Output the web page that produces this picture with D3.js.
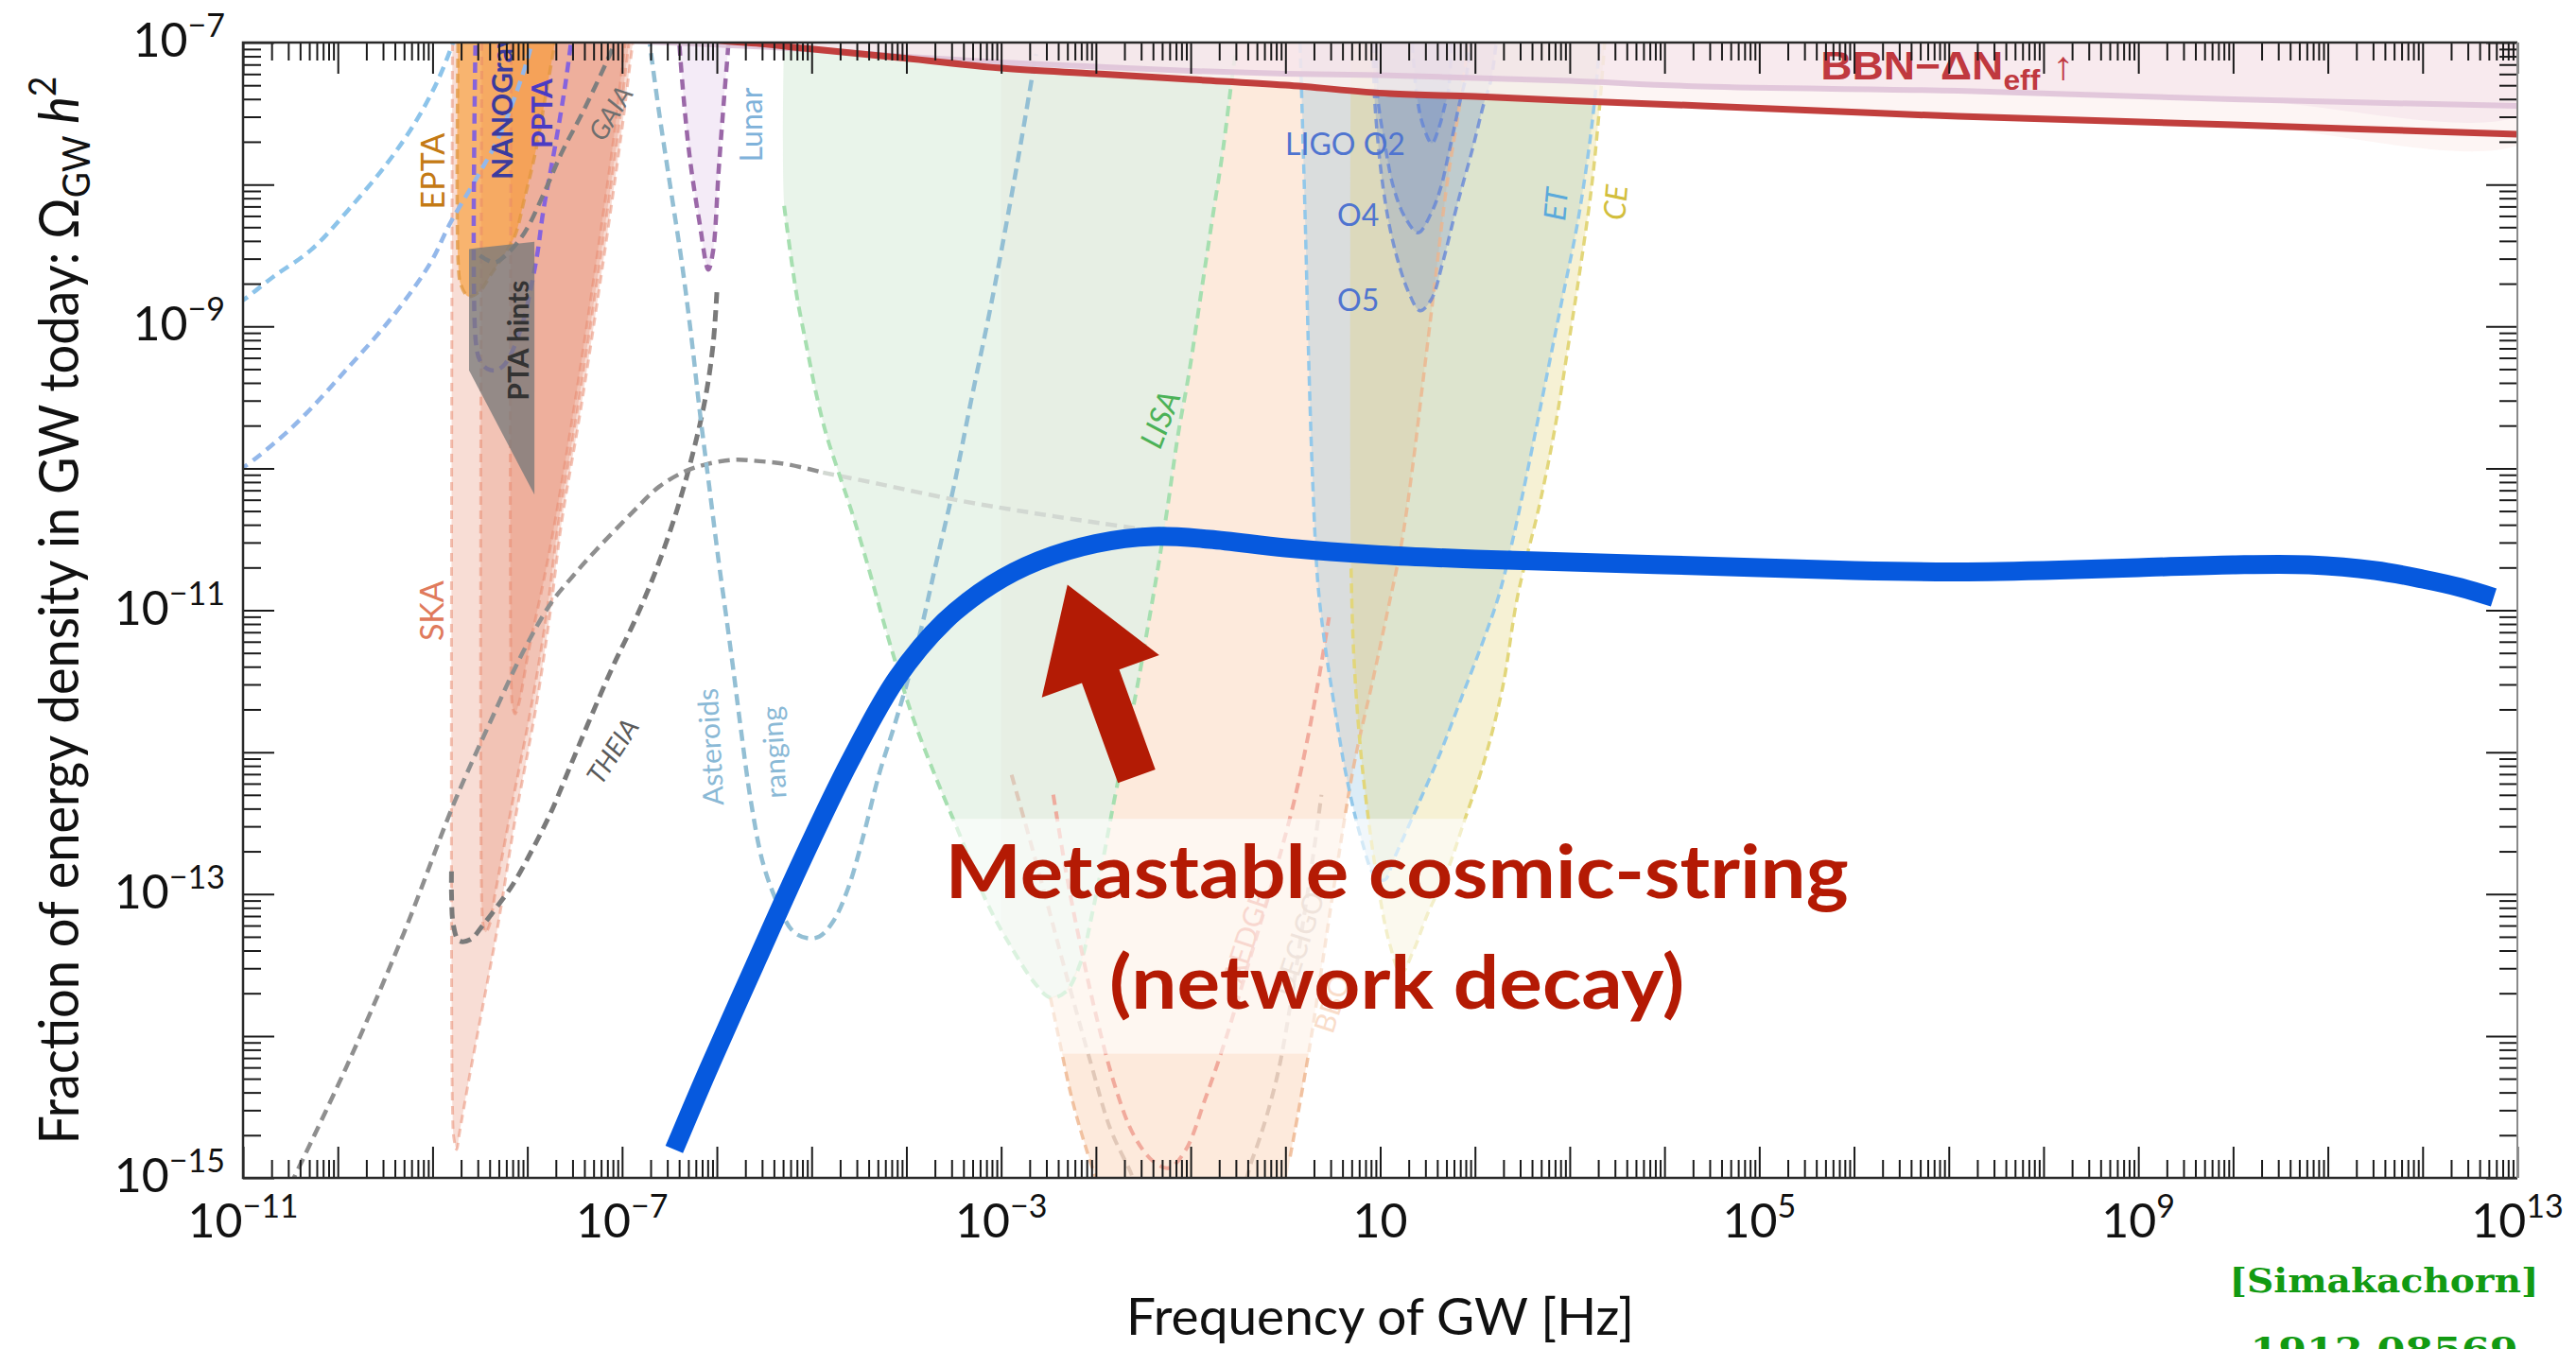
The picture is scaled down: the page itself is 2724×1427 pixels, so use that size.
<!DOCTYPE html>
<html>
<head>
<meta charset="utf-8">
<title>Metastable cosmic-string GW spectrum</title>
<script src="https://cdn.jsdelivr.net/npm/d3@7/dist/d3.min.js"></script>
<style>
  html, body { margin: 0; padding: 0; background: #ffffff; }
  svg { display: block; }
</style>
</head>
<body>
<svg id="chart" width="2724" height="1427"></svg>
<script>
// ---------- axis decades carrying a label ----------
const xLabelExps = [-11, -7, -3, 1, 5, 9, 13];
const yLabelExps = [-7, -9, -11, -13, -15];

// ---------- curves: [log10 f / Hz, log10 Omega_GW h^2] ----------
const cosmicString = [[-6.45,-14.80],[-6.1,-14.25],[-5.6,-13.5],[-5.1,-12.76],[-4.6,-12.07],[-4.1,-11.48],
  [-3.6,-11.08],[-3.1,-10.82],[-2.6,-10.65],[-2.0,-10.53],[-1.4,-10.48],[-0.8,-10.50],[0,-10.56],[1,-10.61],
  [2,-10.64],[3,-10.66],[4,-10.68],[5,-10.70],[6,-10.72],[7,-10.73],[8,-10.72],[9,-10.70],[10,-10.68],
  [10.8,-10.68],[11.5,-10.72],[12.0,-10.78],[12.4,-10.84],[12.75,-10.91]];

const bbnBound = [[-6.4,-6.94],[-5.98,-6.985],[-5.5,-7.01],[-5.08,-7.04],[-4.02,-7.11],[-3,-7.18],[-2,-7.22],
  [-1,-7.26],[0,-7.30],[1.1,-7.36],[2,-7.38],[3,-7.41],[4.4,-7.446],[7.1,-7.52],[10,-7.58],[13.2,-7.65]];
const cmbBound = [[-7.5,-6.97],[-6.5,-7.0],[-5.5,-7.03],[-5,-7.05],[-4,-7.1],[-3,-7.14],[-2,-7.17],[-1,-7.2],
  [0,-7.22],[1,-7.23],[2,-7.25],[3,-7.27],[4.4,-7.31],[7.1,-7.34],[10,-7.40],[13.2,-7.45]];

const skaOuter = [[-8.79,-6.9],[-8.79,-14.5],[-8.775,-14.72],[-8.745,-14.80],[-8.72,-14.70],[-8.62,-14.32],
  [-8.47,-13.79],[-8.31,-13.22],[-8.13,-12.48],[-7.91,-11.69],[-7.755,-11.0],[-7.64,-10.39],[-7.44,-9.60],
  [-7.20,-8.55],[-7.005,-7.63],[-6.89,-7.02],[-6.86,-6.9]];
const skaMid = [[-8.48,-6.9],[-8.48,-13.08],[-8.465,-13.22],[-8.44,-13.27],[-8.40,-13.22],[-8.34,-13.0],
  [-8.17,-12.40],[-7.95,-11.65],[-7.79,-11.0],[-7.68,-10.42],[-7.48,-9.62],[-7.24,-8.57],[-7.045,-7.65],
  [-6.93,-7.02],[-6.90,-6.9]];
const skaInner = [[-8.17,-6.9],[-8.17,-11.52],[-8.155,-11.68],[-8.13,-11.73],[-8.09,-11.66],[-7.99,-11.30],
  [-7.83,-10.8],[-7.72,-10.42],[-7.52,-9.63],[-7.28,-8.58],[-7.085,-7.66],[-6.97,-7.02],[-6.94,-6.9]];

const epta = [[-8.73,-6.9],[-8.73,-8.55],[-8.70,-8.71],[-8.62,-8.79],[-8.50,-8.75],[-8.38,-8.63],[-8.25,-8.50],
  [-8.13,-8.36],[-8.03,-8.10],[-7.91,-7.76],[-7.80,-7.35],[-7.715,-7.02],[-7.69,-6.9]];
const nanograv = [[-8.545,-6.9],[-8.545,-9.1],[-8.50,-9.24],[-8.42,-9.30],[-8.33,-9.31],[-8.23,-9.26],
  [-8.07,-9.02],[-7.91,-8.55],[-7.83,-8.18],[-7.715,-7.76],[-7.60,-7.3],[-7.52,-6.9]];
const ptaHints = [[-8.615,-8.455],[-7.925,-8.403],[-7.925,-10.186],[-8.615,-9.31]];

const farBlueUpper = [[-11.2,-8.89],[-11.01,-8.82],[-10.68,-8.65],[-10.28,-8.46],[-9.89,-8.18],[-9.49,-7.86],
  [-9.18,-7.56],[-8.94,-7.26],[-8.78,-6.99],[-8.74,-6.9]];
const farBlueLower = [[-11.2,-10.07],[-11.01,-10.0],[-10.48,-9.71],[-9.89,-9.29],[-9.41,-8.92],[-9.02,-8.55],
  [-8.82,-8.28],[-8.54,-7.96],[-8.31,-7.68],[-8.13,-7.38],[-7.97,-7.05],[-7.93,-6.9]];

const gaia = [[-8.50,-8.50],[-8.35,-8.55],[-8.23,-8.50],[-8.03,-8.34],[-7.83,-8.07],[-7.64,-7.78],[-7.40,-7.47],
  [-7.12,-7.07],[-7.07,-6.98]];
const lunar = [[-6.40,-6.9],[-6.394,-7.02],[-6.295,-7.76],[-6.18,-8.28],[-6.09,-8.60],[-6.04,-8.47],[-5.98,-7.89],
  [-5.92,-7.36],[-5.88,-7.02],[-5.875,-6.9]];
const theia = [[-6.00,-8.76],[-6.04,-9.13],[-6.12,-9.50],[-6.24,-9.86],[-6.41,-10.27],[-6.62,-10.68],[-6.85,-11.05],
  [-7.10,-11.40],[-7.36,-11.80],[-7.56,-12.12],[-7.755,-12.43],[-7.95,-12.69],[-8.15,-12.93],[-8.31,-13.08],
  [-8.47,-13.22],[-8.60,-13.32],[-8.72,-13.33],[-8.78,-13.22],[-8.80,-13.00],[-8.80,-12.82]];
const grayArc = [[-10.50,-15.05],[-9.89,-14.19],[-9.30,-13.27],[-8.78,-12.37],[-8.40,-11.8],[-8.05,-11.3],
  [-7.75,-10.95],[-7.52,-10.76],[-7.28,-10.58],[-6.89,-10.31],[-6.61,-10.13],[-6.33,-10.02],[-6.10,-9.97],
  [-5.82,-9.94],[-5.55,-9.95],[-5.27,-9.97],[-4.88,-10.03]];
const grayArcTail = [[-4.88,-10.03],[-4.29,-10.11],[-3.50,-10.22],[-2.71,-10.31],[-1.92,-10.39],[-1.41,-10.44]];
const asteroids = [[-6.72,-6.95],[-6.61,-7.49],[-6.49,-8.02],[-6.37,-8.55],[-6.27,-9.07],[-6.18,-9.60],[-6.08,-10.13],
  [-5.98,-10.66],[-5.90,-11.05],[-5.83,-11.40],[-5.75,-11.82],[-5.64,-12.35],[-5.51,-12.79],[-5.35,-13.08],
  [-5.20,-13.26],[-5.05,-13.31],[-4.92,-13.30],[-4.77,-13.19],[-4.61,-12.95],[-4.45,-12.58],[-4.29,-12.16],
  [-4.13,-11.82],[-3.98,-11.48],[-3.84,-11.12],[-3.68,-10.65],[-3.50,-10.13],[-3.31,-9.50],[-3.11,-8.86],
  [-2.91,-8.15],[-2.79,-7.70],[-2.67,-7.23],[-2.63,-7.08]];

const lisa = [[-5.29,-8.15],[-5.22,-8.5],[-5.15,-8.81],[-5.05,-9.15],[-4.96,-9.45],[-4.85,-9.75],[-4.72,-10.02],
  [-4.57,-10.32],[-4.40,-10.7],[-4.25,-11.06],[-4.10,-11.4],[-3.94,-11.74],[-3.70,-12.16],[-3.42,-12.61],
  [-3.15,-13.06],[-2.87,-13.40],[-2.63,-13.64],[-2.48,-13.73],[-2.32,-13.69],[-2.16,-13.48],[-2.04,-13.14],
  [-1.92,-12.74],[-1.81,-12.35],[-1.69,-11.95],[-1.57,-11.56],[-1.45,-11.11],[-1.35,-10.72],[-1.25,-10.30],
  [-1.13,-9.75],[-1.02,-9.34],[-0.90,-8.81],[-0.78,-8.28],[-0.66,-7.76],[-0.56,-7.23],[-0.52,-7.05]];
const lisaMinIndex = 17;

// lower and right edges of the BBO band (its upper-left edge follows LISA)
const bboEdge = [[-2.48,-13.73],[-2.38,-14.05],[-2.25,-14.45],[-2.1,-14.8],[-1.95,-15.1],
  [0.0,-15.1],[0.05,-14.85],[0.25,-14.1],[0.50,-13.0],[0.72,-12.1],[0.92,-11.5],[1.08,-11.0],[1.22,-10.55],
  [1.34,-10.0],[1.46,-9.34],[1.58,-8.68],[1.70,-8.02],[1.85,-7.39],[1.95,-6.9]];
const aedge = [[-2.45,-12.3],[-2.3,-12.9],[-2.16,-13.37],[-2.0,-13.85],[-1.8,-14.35],[-1.6,-14.7],[-1.4,-14.88],
  [-1.23,-14.93],[-1.05,-14.8],[-0.85,-14.45],[-0.62,-14.0],[-0.35,-13.4],[-0.11,-12.85],[0.09,-12.35],
  [0.25,-11.85],[0.36,-11.45],[0.46,-11.05]];
const decigo = [[-2.89,-12.16],[-2.6,-12.85],[-2.3,-13.6],[-2.05,-14.2],[-1.85,-14.65],[-1.64,-14.95],[-1.5,-15.15],
  [-0.55,-15.15],[-0.34,-14.85],[-0.10,-14.32],[0.05,-13.79],[0.17,-13.27],[0.29,-12.74],[0.38,-12.3]];

const einsteinTel = [[0.15,-6.9],[0.17,-7.34],[0.21,-8.28],[0.25,-9.34],[0.29,-10.13],[0.34,-10.79],[0.40,-11.16],
  [0.52,-11.69],[0.64,-12.16],[0.80,-12.61],[0.95,-12.88],[1.05,-12.90],[1.14,-12.76],[1.38,-12.40],[1.62,-12.03],
  [1.85,-11.63],[2.09,-11.21],[2.25,-10.90],[2.40,-10.5],[2.56,-10.00],[2.76,-9.34],[2.92,-8.81],[3.08,-8.28],
  [3.20,-7.76],[3.27,-7.36],[3.33,-6.9]];
const cosmicExplorer = [[0.69,-6.9],[0.69,-10.6],[0.72,-11.3],[0.81,-12.10],[0.98,-12.95],[1.10,-13.35],
  [1.22,-13.56],[1.35,-13.40],[1.50,-13.14],[1.70,-12.85],[1.89,-12.48],[2.09,-12.08],[2.29,-11.55],[2.45,-10.90],
  [2.68,-10.26],[2.84,-9.73],[3.00,-9.07],[3.12,-8.55],[3.23,-8.02],[3.31,-7.49],[3.38,-6.9]];
const ligoO5 = [[0.92,-6.9],[0.93,-7.2],[0.95,-7.49],[1.03,-8.02],[1.14,-8.42],[1.30,-8.76],[1.42,-8.89],[1.54,-8.81],
  [1.66,-8.55],[1.81,-8.15],[1.97,-7.76],[2.09,-7.44],[2.17,-7.26],[2.24,-6.9]];
const ligoO4 = [[0.96,-6.9],[0.97,-7.36],[1.06,-7.76],[1.14,-8.02],[1.26,-8.23],[1.40,-8.34],[1.54,-8.20],
  [1.64,-8.02],[1.73,-7.76],[1.85,-7.39],[1.91,-7.23],[1.97,-6.9]];
const ligoO2 = [[1.33,-6.9],[1.38,-7.34],[1.45,-7.58],[1.545,-7.71],[1.62,-7.60],[1.68,-7.45],[1.72,-7.34],[1.76,-6.9]];

// annotation anchors, same [log10 f, log10 Omega] convention
const arrowTip = [-2.30, -10.82];
const arrowTail = [-1.57, -12.17];
const captionLines = ['Metastable cosmic-string', '(network decay)'];
const captionAt = [[1.176, -13.029], [1.176, -13.809]];
const captionBox = [[-3.69, -12.47], [6.05, -14.125]];

const detectorLabels = [
  {text:'EPTA',      at:[-9.014,-7.906]},
  {text:'NANOGrav',  at:[-8.275,-7.966]},
  {text:'PPTA',      at:[-7.856,-7.746]},
  {text:'PTA hints', at:[-8.110,-9.099]},
  {text:'SKA',       at:[-9.024,-11.004]},
  {text:'GAIA',      at:[-7.128,-7.493]},
  {text:'Lunar',     at:[-5.651,-7.580]},
  {text:'THEIA',     at:[-7.108,-11.990]},
  {text:'Asteroids', at:[-6.080,-11.963]},
  {text:'ranging',   at:[-5.411,-12.003]},
  {text:'LISA',      at:[-1.333,-9.652]},
  {text:'LIGO O2',   at:[-0.002,-7.796]},
  {text:'O4',        at:[0.547,-8.292]},
  {text:'O5',        at:[0.547,-8.892]},
  {text:'ET',        at:[2.842,-8.139]},
  {text:'CE',        at:[3.471,-8.126]},
  {text:'AEDGE',     at:[-0.421,-13.296]},
  {text:'DECIGO',    at:[0.128,-13.349]},
  {text:'BBO',       at:[0.482,-13.769]}
];
const bbnLabelAt = [5.647, -7.260];

// ---------- look ----------
const labelStyles = {
  'EPTA':      {fill:'#c47a14', size:34, rot:-90},
  'NANOGrav':  {fill:'#3b3b9e', size:30, rot:-90, weight:700, anchor:'start'},
  'PPTA':      {fill:'#4a3bc4', size:30, rot:-90, weight:700, anchor:'start'},
  'PTA hints': {fill:'#333333', size:30, rot:-90, weight:700},
  'SKA':       {fill:'#e07a5c', size:34, rot:-90},
  'GAIA':      {fill:'#6f6f6f', size:28, rot:-58, italic:true},
  'Lunar':     {fill:'#7fb2da', size:32, rot:-90},
  'THEIA':     {fill:'#5a5a5a', size:28, rot:-57, italic:true},
  'Asteroids': {fill:'#8ab9d6', size:30, rot:-93},
  'ranging':   {fill:'#8ab9d6', size:30, rot:-93},
  'LISA':      {fill:'#4cb257', size:33, rot:-69, italic:true},
  'LIGO O2':   {fill:'#4f74d0', size:32, rot:0, anchor:'start', base:'alphabetic'},
  'O4':        {fill:'#4f74d0', size:32, rot:0, anchor:'start', base:'alphabetic'},
  'O5':        {fill:'#4f74d0', size:32, rot:0, anchor:'start', base:'alphabetic'},
  'ET':        {fill:'#5aa9db', size:32, rot:-85, italic:true},
  'CE':        {fill:'#d2be3c', size:32, rot:-85, italic:true},
  'AEDGE':     {fill:'#ee9c88', size:30, rot:-72},
  'DECIGO':    {fill:'#d6b8a6', size:30, rot:-72},
  'BBO':       {fill:'#f0aa7a', size:30, rot:-72}
};

const FONT = 'Lato, "Open Sans", "DejaVu Sans", sans-serif';
const svg = d3.select('#chart');
const M = {left: 257, right: 2662, top: 45, bottom: 1246};

const x = d3.scaleLog().domain([1e-11, 1e13]).range([M.left, M.right]);
const y = d3.scaleLog().domain([1e-15, 1e-7]).range([M.bottom, M.top]);
const X = v => x(Math.pow(10, v));
const Y = v => y(Math.pow(10, v));

const smooth = d3.line().x(d => X(d[0])).y(d => Y(d[1])).curve(d3.curveCatmullRom.alpha(0.5));
const linear = d3.line().x(d => X(d[0])).y(d => Y(d[1]));

svg.append('rect').attr('width', 2724).attr('height', 1427).attr('fill', '#ffffff');

svg.append('defs').append('clipPath').attr('id', 'plotClip')
  .append('rect').attr('x', M.left).attr('y', M.top)
  .attr('width', M.right - M.left).attr('height', M.bottom - M.top);

const plot = svg.append('g').attr('clip-path', 'url(#plotClip)');

function region(pts, color, alpha, gen) {
  plot.append('path').attr('d', (gen || smooth)(pts) + 'Z')
    .attr('fill', color).attr('fill-opacity', alpha).attr('stroke', 'none');
}
function dashed(pts, color, width, dash, opacity) {
  plot.append('path').attr('d', smooth(pts)).attr('fill', 'none')
    .attr('stroke', color).attr('stroke-width', width)
    .attr('stroke-dasharray', dash).attr('stroke-opacity', opacity == null ? 1 : opacity);
}

// ---------- sensitivity regions ----------
const lisaRightSide = lisa.slice(lisaMinIndex).reverse();
region([[-5.29, -6.9]].concat(lisa, [[-0.50, -6.9]]), '#6cb673', 0.15);
region([[-3.0, -6.9], [-3.0, -13.25]].concat(lisa.slice(15), [[-0.50, -6.9]]), '#c8a070', 0.05, linear);
region([[-0.50, -6.9]].concat(lisaRightSide, bboEdge.slice(1)), '#f5a060', 0.22, linear);
region(einsteinTel, '#8cc0e0', 0.30);
region(cosmicExplorer, '#e0d070', 0.30);
[ligoO5, ligoO4, ligoO2].forEach(r => region(r, '#4f74d2', 0.21));
[skaOuter, skaMid, skaInner].forEach(r => region(r, '#e07050', 0.24));
region(epta, '#f89b30', 0.62);
region(lunar, '#b070c8', 0.14);

// ---------- dashed sensitivity curves ----------
[skaOuter, skaMid, skaInner].forEach(r => dashed(r, '#e8856a', 3, '9 6', 0.5));
dashed(epta, '#e0963e', 3.5, '10 6', 0.75);
dashed(farBlueUpper, '#8dc4ea', 4.5, '11 7');
dashed(farBlueLower, '#94b8ea', 4.5, '11 7');
dashed(nanograv, '#7a5be6', 4.5, '11 7', 0.9);
dashed(gaia, '#7f7f7f', 4.5, '12 7');
dashed(theia, '#7a7a7a', 5, '12 7');
dashed(grayArc, '#8f8f8f', 4.5, '12 7');
dashed(grayArcTail, '#d2d8d2', 4.5, '12 7');
dashed(asteroids, '#93bfd4', 4.5, '12 7');
dashed(lisa, '#a6dfb0', 4, '11 7');
dashed(bboEdge.slice(0, 5), '#eeb48c', 3.5, '10 6', 0.8);
dashed(bboEdge.slice(6), '#eeb48c', 3.5, '10 6', 0.8);
dashed(aedge, '#ef9f90', 4, '11 7', 0.85);
dashed(decigo, '#dcc2b2', 4, '11 7', 0.85);
dashed(einsteinTel, '#92c8ea', 3.5, '10 6');
dashed(cosmicExplorer.slice(1), '#e2d67a', 3.5, '10 6');
[ligoO5, ligoO4, ligoO2].forEach(r => dashed(r, '#5f82d8', 3.5, '10 6', 0.75));
dashed(lunar, '#9b68a8', 4.5, '11 7');

// PTA hint band
plot.append('path').attr('d', linear(ptaHints) + 'Z')
  .attr('fill', '#7a7a7a').attr('fill-opacity', 0.78);

// ---------- N_eff bounds ----------
plot.append('path').attr('d', smooth(bbnBound.concat([[13.2, -6.5], [-6.4, -6.5]])) + 'Z')
  .attr('fill', '#fcf2f1').attr('fill-opacity', 0.8);
plot.append('path').attr('d', smooth(cmbBound.concat([[13.2, -6.5], [-7.5, -6.5]])) + 'Z')
  .attr('fill', '#f0d8e4').attr('fill-opacity', 0.38);
plot.append('path').attr('d', smooth(cmbBound)).attr('fill', 'none')
  .attr('stroke', '#dfc3d8').attr('stroke-width', 6).attr('stroke-opacity', 0.9);
plot.append('path').attr('d', smooth(bbnBound)).attr('fill', 'none')
  .attr('stroke', '#c13f3d').attr('stroke-width', 7);

// ---------- detector names ----------
detectorLabels.forEach(l => {
  const s = labelStyles[l.text];
  const px = X(l.at[0]), py = Y(l.at[1]);
  plot.append('text')
    .attr('transform', `translate(${px},${py}) rotate(${s.rot})`)
    .attr('text-anchor', s.anchor || 'middle')
    .attr('dominant-baseline', s.base || 'central')
    .attr('font-family', FONT)
    .attr('font-size', s.size)
    .attr('font-weight', s.weight || 400)
    .attr('font-style', s.italic ? 'italic' : 'normal')
    .attr('fill', s.fill)
    .text(l.text);
});

const bbn = plot.append('text')
  .attr('x', X(bbnLabelAt[0])).attr('y', Y(bbnLabelAt[1]))
  .attr('font-family', '"Liberation Sans", Arial, sans-serif').attr('font-weight', 700)
  .attr('font-size', 42).attr('fill', '#c0393f')
  .attr('textLength', 268).attr('lengthAdjust', 'spacingAndGlyphs');
bbn.append('tspan').text('BBN\u2212\u0394N');
bbn.append('tspan').attr('dy', 11).attr('font-size', 29).text('eff');
bbn.append('tspan').attr('dy', -11).text(' \u2191');

// ---------- caption backdrop ----------
plot.append('rect')
  .attr('x', X(captionBox[0][0])).attr('y', Y(captionBox[0][1]))
  .attr('width', X(captionBox[1][0]) - X(captionBox[0][0]))
  .attr('height', Y(captionBox[1][1]) - Y(captionBox[0][1]))
  .attr('fill', '#ffffff').attr('fill-opacity', 0.6);

// ---------- predicted spectrum ----------
plot.append('path').attr('d', smooth(cosmicString)).attr('fill', 'none')
  .attr('stroke', '#0659de').attr('stroke-width', 20).attr('stroke-linecap', 'butt');

// ---------- arrow pointing at the spectrum ----------
{
  const tip = [X(arrowTip[0]), Y(arrowTip[1])];
  const tail = [X(arrowTail[0]), Y(arrowTail[1])];
  const dx = tip[0] - tail[0], dy = tip[1] - tail[1];
  const len = Math.hypot(dx, dy);
  const u = [dx / len, dy / len], n = [-u[1], u[0]];
  const headLen = 103, headHalf = 66, shaftHalf = 21;
  const neck = [tip[0] - u[0] * headLen, tip[1] - u[1] * headLen];
  const pt = (b, k) => [b[0] + n[0] * k, b[1] + n[1] * k];
  const poly = [pt(tail, shaftHalf), pt(neck, shaftHalf), pt(neck, headHalf), tip,
                pt(neck, -headHalf), pt(neck, -shaftHalf), pt(tail, -shaftHalf)];
  plot.append('path').attr('d', d3.line()(poly) + 'Z').attr('fill', '#b31b05');
}

// ---------- caption ----------
const captionWidths = [955, 608];
captionLines.forEach((t, i) => {
  plot.append('text')
    .attr('x', X(captionAt[i][0])).attr('y', Y(captionAt[i][1]))
    .attr('text-anchor', 'middle')
    .attr('font-family', FONT).attr('font-weight', 700).attr('font-size', 78)
    .attr('fill', '#b41a04')
    .attr('textLength', captionWidths[i]).attr('lengthAdjust', 'spacingAndGlyphs')
    .text(t);
});

// ---------- axes ----------
const decades = d3.range(-11, 14).map(e => Math.pow(10, e));
const minorX = [];
d3.range(-11, 13).forEach(e => { for (let k = 2; k < 10; k++) minorX.push(k * Math.pow(10, e)); });
const yDecades = d3.range(-15, -6).map(e => Math.pow(10, e));
const minorY = [];
d3.range(-15, -7).forEach(e => { for (let k = 2; k < 10; k++) minorY.push(k * Math.pow(10, e)); });

const axes = svg.append('g');
function tickAxis(axisFn, scale, values, size, transform) {
  const g = axes.append('g').attr('transform', transform)
    .call(axisFn(scale).tickValues(values).tickSize(-size).tickSizeOuter(0).tickFormat(''));
  g.select('.domain').remove();
  g.selectAll('line').attr('stroke', '#1a1a1a').attr('stroke-width', 2);
}
tickAxis(d3.axisBottom, x, decades, 33, `translate(0,${M.bottom})`);
tickAxis(d3.axisBottom, x, minorX, 19, `translate(0,${M.bottom})`);
tickAxis(d3.axisTop, x, decades, 33, `translate(0,${M.top})`);
tickAxis(d3.axisTop, x, minorX, 19, `translate(0,${M.top})`);
tickAxis(d3.axisLeft, y, yDecades, 33, `translate(${M.left},0)`);
tickAxis(d3.axisLeft, y, minorY, 19, `translate(${M.left},0)`);
tickAxis(d3.axisRight, y, yDecades, 33, `translate(${M.right},0)`);
tickAxis(d3.axisRight, y, minorY, 19, `translate(${M.right},0)`);

// frame
axes.append('path')
  .attr('d', `M${M.right},${M.top}H${M.left}V${M.bottom}H${M.right}`)
  .attr('fill', 'none').attr('stroke', '#2a2a2a').attr('stroke-width', 2.5);
axes.append('line').attr('x1', M.right).attr('x2', M.right).attr('y1', M.top).attr('y2', M.bottom)
  .attr('stroke', '#8a8a8a').attr('stroke-width', 2);

const expText = e => (e < 0 ? '\u2212' : '') + Math.abs(e);
function powerLabel(sel, e) {
  sel.append('tspan').text('10');
  if (e !== 1) sel.append('tspan').attr('dy', -21).attr('font-size', 34).text(expText(e));
}
xLabelExps.forEach(e => {
  const t = axes.append('text').attr('x', X(e)).attr('y', M.bottom + 63)
    .attr('text-anchor', 'middle').attr('font-family', FONT).attr('font-size', 50).attr('fill', '#111');
  powerLabel(t, e);
});
yLabelExps.forEach(e => {
  const t = axes.append('text').attr('x', M.left - 19).attr('y', Y(e) + 15)
    .attr('text-anchor', 'end').attr('font-family', FONT).attr('font-size', 50).attr('fill', '#111');
  powerLabel(t, e);
});

// axis titles
axes.append('text').attr('x', (M.left + M.right) / 2).attr('y', 1412)
  .attr('text-anchor', 'middle').attr('font-family', FONT).attr('font-size', 54).attr('fill', '#111')
  .attr('textLength', 537).attr('lengthAdjust', 'spacingAndGlyphs')
  .text('Frequency of GW [Hz]');

const yt = axes.append('text').attr('transform', `translate(83,${(M.top + M.bottom) / 2}) rotate(-90)`)
  .attr('text-anchor', 'middle').attr('font-family', FONT).attr('font-size', 58).attr('fill', '#111')
  .attr('textLength', 1130).attr('lengthAdjust', 'spacingAndGlyphs');
yt.append('tspan').text('Fraction of energy density in GW today:  \u03A9');
yt.append('tspan').attr('dy', 12).attr('font-size', 40).text('GW');
yt.append('tspan').attr('dy', -12).attr('font-style', 'italic').text(' h');
yt.append('tspan').attr('dy', -24).attr('font-size', 40).text('2');

// credit
const credit = axes.append('g').attr('font-family', '"DejaVu Serif", "Liberation Serif", serif')
  .attr('font-weight', 700).attr('font-size', 36).attr('fill', '#129a12').attr('text-anchor', 'middle');
credit.append('text').attr('x', 2521).attr('y', 1367).attr('textLength', 327)
  .attr('lengthAdjust', 'spacingAndGlyphs').text('[Simakachorn]');
credit.append('text').attr('x', 2521).attr('y', 1440).attr('textLength', 283)
  .attr('lengthAdjust', 'spacingAndGlyphs').text('1912.08569');
</script>
</body>
</html>
